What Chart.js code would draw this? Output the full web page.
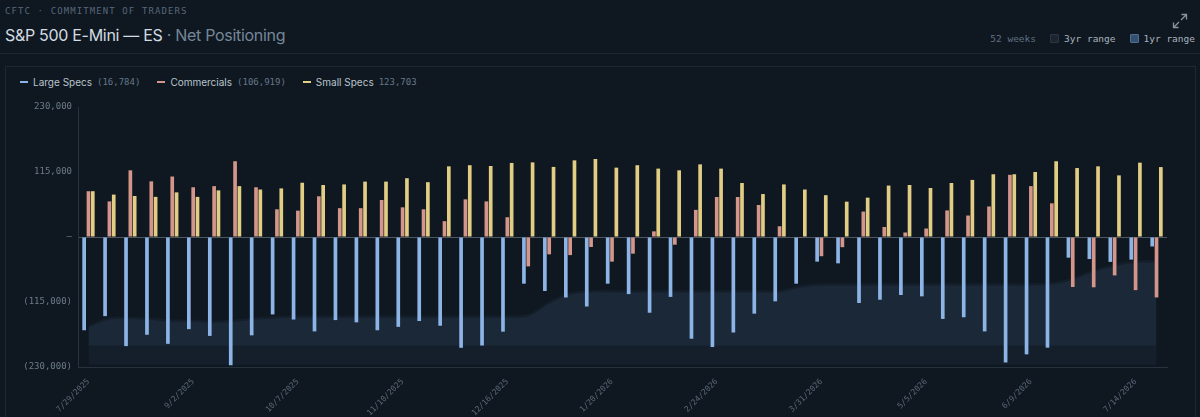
<!DOCTYPE html>
<html lang="en">
<head>
<meta charset="utf-8">
<title>S&amp;P 500 E-Mini — ES · Net Positioning</title>
<script src="https://cdn.jsdelivr.net/npm/chart.js@4.4.1/dist/chart.umd.min.js"></script>
<style>
  html, body { margin: 0; padding: 0; width: 1200px; height: 417px; overflow: hidden; background: #0f1820; font-family: Inter, "Noto Sans", sans-serif; }
  .eyebrow { position: absolute; left: 5px; top: 6px; font: 9px "DejaVu Sans Mono", monospace; letter-spacing: 1.1px; color: #56677a; }
  .title { position: absolute; left: 5px; top: 25px; font-size: 16px; color: #d3dbe3; letter-spacing: -0.3px; white-space: nowrap; }
  .title span { color: #75879a; }
  .expand { position: absolute; left: 1172px; top: 13px; }
  .hr { position: absolute; left: 0; right: 0; top: 53px; height: 1px; background: #1c2833; }
  .controls { position: absolute; right: 5px; top: 33px; display: flex; align-items: center; font: 9.5px "DejaVu Sans Mono", monospace; color: #a9b4bf; white-space: nowrap; }
  .controls .weeks { color: #5f7082; margin-right: 14px; }
  .controls .box { width: 7px; height: 7px; border: 1px solid #2b3642; background: #1c2630; border-radius: 1px; margin-right: 5px; }
  .controls .box.on { background: #34506f; border-color: #4d6d91; }
  .controls .gap { width: 14px; }
  .card { position: absolute; left: 5px; top: 66px; width: 1189px; height: 360px; border: 1px solid #1c2935; border-bottom: none; }
  .legend { position: absolute; left: 20px; top: 76px; display: flex; align-items: center; font-size: 10px; color: #b9c3cd; white-space: nowrap; }
  .legend .sw { width: 8px; height: 2px; margin-right: 5px; }
  .legend .val { font: 9px "DejaVu Sans Mono", monospace; color: #66768a; margin-left: 5px; margin-right: 17px; }
  #wrap { position: absolute; left: 6px; top: 95px; width: 1188px; height: 322px; }
</style>
</head>
<body>
<div class="eyebrow">CFTC · COMMITMENT OF TRADERS</div>
<div class="title">S&amp;P 500 E-Mini — ES <span>· Net Positioning</span></div>
<svg class="expand" width="16" height="16" viewBox="0 0 16 16" fill="none" stroke="#8795a3" stroke-width="1.3">
  <path d="M9.5 1.5h5v5M14.5 1.5l-5.5 5.5M6.5 14.5h-5v-5M1.5 14.5l5.5-5.5"/>
</svg>
<div class="controls">
  <span class="weeks">52 weeks</span>
  <span class="box"></span><span>3yr range</span>
  <span class="gap"></span>
  <span class="box on"></span><span>1yr range</span>
</div>
<div class="hr"></div>
<div class="card"></div>
<div class="legend">
  <span class="sw" style="background:#8db4e6"></span><span>Large Specs</span><span class="val">(16,784)</span>
  <span class="sw" style="background:#d4958a"></span><span>Commercials</span><span class="val">(106,919)</span>
  <span class="sw" style="background:#e2cd85"></span><span>Small Specs</span><span class="val">123,703</span>
</div>
<div id="wrap"><canvas id="cotChart"></canvas></div>

<script>
// weekly report dates
const weeks = [
  '7/29/2025', '8/5/2025', '8/12/2025', '8/19/2025', '8/26/2025', '9/2/2025', '9/9/2025', '9/16/2025',
  '9/23/2025', '9/30/2025', '10/7/2025', '10/14/2025', '10/21/2025', '10/28/2025', '11/4/2025', '11/10/2025',
  '11/18/2025', '11/25/2025', '12/2/2025', '12/9/2025', '12/16/2025', '12/23/2025', '12/30/2025', '1/6/2026',
  '1/13/2026', '1/20/2026', '1/27/2026', '2/3/2026', '2/10/2026', '2/17/2026', '2/24/2026', '3/3/2026',
  '3/10/2026', '3/17/2026', '3/24/2026', '3/31/2026', '4/7/2026', '4/14/2026', '4/21/2026', '4/28/2026',
  '5/5/2026', '5/12/2026', '5/19/2026', '5/26/2026', '6/2/2026', '6/9/2026', '6/16/2026', '6/23/2026',
  '6/30/2026', '7/7/2026', '7/14/2026', '7/21/2026'
];

const largeSpecs = [
  -165000, -140000, -193000, -173000, -189000, -163000, -175000, -227000, -174000, -137000,
  -146000, -167000, -147000, -151000, -165000, -159000, -148600, -157000, -196000, -192000,
  -167500, -82600, -95500, -107000, -123000, -82600, -101000, -134000, -106000, -180000,
  -194600, -169000, -135600, -113800, -82600, -43600, -46600, -116800, -111000, -102600,
  -105000, -145000, -142000, -167000, -222000, -207600, -195800, -36600, -39000, -44000,
  -40000, -16784
];

const commercials = [
  81000, 63000, 118000, 98500, 107000, 88000, 90000, 134000, 88000, 49000,
  46600, 72000, 51000, 51000, 65500, 52500, 49000, 28000, 66600, 63000,
  35000, -52000, -30700, -32000, -17700, -43600, -29500, 10000, -13600, 48000,
  70800, 70800, 56600, 19000, -1500, -34000, -18000, 45000, 17700, 8000,
  15000, 47000, 38000, 54000, 110000, 90000, 59600, -88500, -89000, -68000,
  -94000, -106919
];

const smallSpecs = [
  81000, 75000, 72500, 71000, 79000, 71000, 82500, 90000, 84000, 86000,
  96000, 92000, 93000, 98000, 98000, 104000, 97000, 125000, 127000, 125600,
  131000, 132000, 124000, 135600, 138000, 122700, 127000, 121000, 118000, 128500,
  121000, 95500, 76000, 93000, 84000, 74000, 62500, 69600, 91000, 92000,
  86700, 95500, 101000, 111000, 111000, 115000, 134000, 122000, 125000, 109000,
  131500, 123703
];

// historical range bands (large specs)
const range1yHigh = [
  -160000, -146000, -145000, -147000, -150000, -150000, -152000, -150000, -146000, -144000,
  -143000, -143000, -143000, -143000, -143000, -143000, -143000, -143000, -143000, -143000,
  -143000, -140000, -118000, -102000, -98000, -98000, -98000, -98000, -98000, -98000,
  -98000, -98000, -98000, -98000, -90000, -86000, -86000, -86000, -86000, -86000,
  -86000, -86000, -86000, -86000, -86000, -86000, -84000, -76000, -62000, -52000,
  -46000, -45000
];
const range1yLow = [
  -192000, -192000, -192000, -192000, -192000, -192000, -192000, -192000, -192000, -192000,
  -192000, -192000, -192000, -192000, -192000, -192000, -192000, -192000, -192000, -192000,
  -192000, -192000, -192000, -192000, -192000, -192000, -192000, -192000, -192000, -192000,
  -192000, -192000, -192000, -192000, -192000, -192000, -192000, -192000, -192000, -192000,
  -192000, -192000, -192000, -192000, -192000, -192000, -192000, -192000, -192000, -192000,
  -192000, -192000
];
const range3yHigh = [
  -156000, -142000, -141000, -143000, -146000, -146000, -148000, -146000, -142000, -140000,
  -139000, -139000, -139000, -139000, -139000, -139000, -139000, -139000, -139000, -139000,
  -139000, -136000, -114000, -98000, -94000, -94000, -94000, -94000, -94000, -94000,
  -94000, -94000, -94000, -94000, -86000, -82000, -82000, -82000, -82000, -82000,
  -82000, -82000, -82000, -82000, -82000, -82000, -80000, -72000, -58000, -48000,
  -42000, -41000
];
const range3yLow = [
  -226000, -226000, -226000, -226000, -226000, -226000, -226000, -226000, -226000, -226000,
  -226000, -226000, -226000, -226000, -226000, -226000, -226000, -226000, -226000, -226000,
  -226000, -226000, -226000, -226000, -226000, -226000, -226000, -226000, -226000, -226000,
  -226000, -226000, -226000, -226000, -226000, -226000, -226000, -226000, -226000, -226000,
  -226000, -226000, -226000, -226000, -226000, -226000, -226000, -226000, -226000, -226000,
  -226000, -226000
];

const yTicks = [-230000, -115000, 0, 115000, 230000];

const mono = '"DejaVu Sans Mono", monospace';

function fmtTick(v) {
  if (v === 0) return '–';
  const s = Math.abs(v).toLocaleString('en-US');
  return v < 0 ? '(' + s + ')' : s;
}

document.addEventListener('DOMContentLoaded', () => {
  const ctx = document.getElementById('cotChart');
  if (!ctx || typeof Chart === 'undefined') {
    console.log('Chart.js library not loaded');
    return;
  }

  const band = (data, fill, color) => ({
    type: 'line',
    data: data,
    fill: fill,
    backgroundColor: color,
    borderWidth: 0,
    pointRadius: 0,
    tension: 0.35,
    order: 10,
  });

  new Chart(ctx, {
    type: 'bar',
    data: {
      labels: weeks,
      datasets: [
        { label: 'Large Specs', data: largeSpecs, backgroundColor: '#8db4e6', order: 1 },
        { label: 'Commercials', data: commercials, backgroundColor: '#d4958a', order: 1 },
        { label: 'Small Specs', data: smallSpecs, backgroundColor: '#e2cd85', order: 1 },
        band(range3yHigh, '+1', 'rgba(34, 50, 68, 0.3)'),
        band(range3yLow, false, 'transparent'),
        band(range1yHigh, '+1', 'rgba(48, 72, 96, 0.28)'),
        band(range1yLow, false, 'transparent'),
      ],
    },
    options: {
      responsive: true,
      maintainAspectRatio: false,
      animation: false,
      layout: { padding: { top: 12, right: 27, left: 0, bottom: 0 } },
      datasets: {
        bar: { categoryPercentage: 0.62, barPercentage: 0.85, borderWidth: 0 },
      },
      plugins: {
        legend: { display: false },
        tooltip: { enabled: false },
      },
      scales: {
        x: {
          grid: { display: false },
          border: { display: true, color: '#26323e' },
          ticks: {
            autoSkip: false,
            maxRotation: 45,
            minRotation: 45,
            padding: 2,
            color: '#5a6878',
            font: { family: mono, size: 8 },
            callback: function (val, i) { return i % 5 === 0 ? this.getLabelForValue(val) : ''; },
          },
          afterFit: (scale) => { scale.height = 50; },
        },
        y: {
          min: -230000,
          max: 230000,
          afterBuildTicks: (scale) => { scale.ticks = yTicks.map(v => ({ value: v })); },
          grid: {
            drawTicks: false,
            color: (c) => (c.tick && c.tick.value === 0 ? 'rgba(140, 150, 162, 0.5)' : 'transparent'),
          },
          border: { display: true, color: '#26323e' },
          ticks: {
            padding: 6,
            color: '#6c7b8a',
            font: { family: mono, size: 9 },
            callback: fmtTick,
          },
          afterFit: (scale) => { scale.width = 72; },
        },
      },
    },
  });
});
</script>
</body>
</html>
